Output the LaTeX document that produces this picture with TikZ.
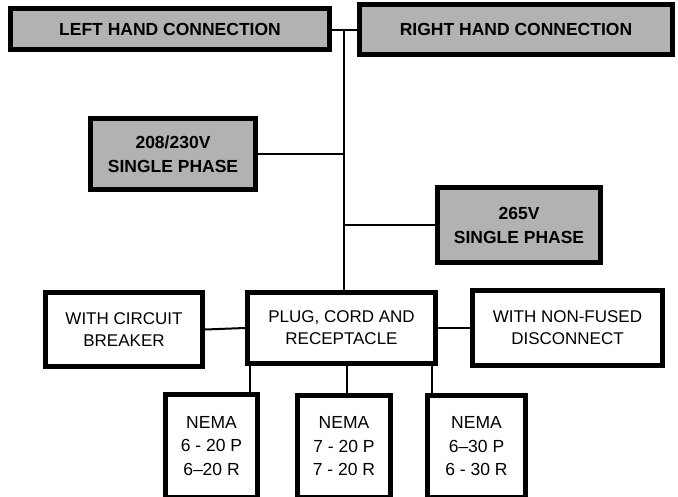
\documentclass[tikz,border=0pt]{standalone}
\usepackage{fontspec}
\setmainfont{Liberation Sans}
\begin{document}
\begin{tikzpicture}[x=1pt,y=-1pt,
  hbox/.style={draw=black,line width=5pt,fill=black!30,inner sep=0pt,align=center,
    font=\bfseries\fontsize{17.5}{24}\selectfont},
  pbox/.style={draw=black,line width=5pt,fill=white,inner sep=0pt,align=center,
    font=\fontsize{17}{22}\selectfont},
  nbox/.style={pbox,font=\fontsize{17.5}{23.5}\selectfont},
  conn/.style={line width=2pt,draw=black}]
\useasboundingbox (0,0) rectangle (678,496);
\clip (0,0) rectangle (678,496);
\fill[white] (0,0) rectangle (678,496);
% top boxes
\node[hbox,minimum width=319,minimum height=41] (LH) at (170,29) {LEFT HAND CONNECTION};
\node[hbox,minimum width=313,minimum height=50] (RH) at (516,29.5) {RIGHT HAND CONNECTION};
\node[hbox,minimum width=165,minimum height=71] (V208) at (173,154) {208/230V\\SINGLE PHASE};
\node[hbox,minimum width=163,minimum height=75] (V265) at (519,225) {265V\\SINGLE PHASE};
% middle row
\node[pbox,minimum width=157,minimum height=74] (CB) at (124,329.5) {WITH CIRCUIT\\BREAKER};
\node[pbox,minimum width=188,minimum height=71] (PCR) at (341.5,328) {PLUG, CORD AND\\RECEPTACLE};
\node[pbox,minimum width=190,minimum height=75] (NF) at (567.5,328) {WITH NON-FUSED\\DISCONNECT};
% NEMA boxes
\node[nbox,minimum width=92,minimum height=103] (N1) at (211.5,446) {NEMA\\6 - 20 P\\6--20 R};
\node[nbox,minimum width=93,minimum height=102] (N2) at (344,446.5) {NEMA\\7 - 20 P\\7 - 20 R};
\node[nbox,minimum width=98,minimum height=102] (N3) at (476.5,446.5) {NEMA\\6--30 P\\6 - 30 R};
% connectors
\coordinate (j) at (344,30);
\coordinate (d1) at (250,0);
\coordinate (d2) at (347,0);
\coordinate (d3) at (432,0);
\begin{scope}[on background layer/.try]
\end{scope}
\draw[conn] (LH.east |- j) -- (RH.west |- j);
\draw[conn] (j) -- (j |- PCR.north);
\draw[conn] (V208.east) -- (V208.east -| j);
\draw[conn] (V265.west) -- (V265.west -| j);
\draw[conn] (CB.east) -- (PCR.west);
\draw[conn] (PCR.east) -- (NF.west);
\draw[conn] (d1 |- PCR.south) -- (d1 |- N1.north);
\draw[conn] (d2 |- PCR.south) -- (d2 |- N2.north);
\draw[conn] (d3 |- PCR.south) -- (d3 |- N3.north);
\end{tikzpicture}
\end{document}
